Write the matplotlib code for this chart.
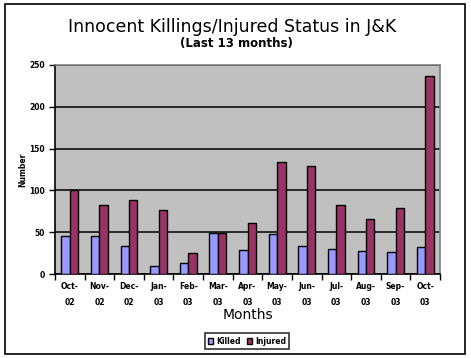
import matplotlib
matplotlib.use('Agg')
import matplotlib.pyplot as plt
from matplotlib.patches import Rectangle
import numpy as np

# data
months = ['Oct-\n02', 'Nov-\n02', 'Dec-\n02', 'Jan-\n03', 'Feb-\n03', 'Mar-\n03', 'Apr-\n03',
          'May-\n03', 'Jun-\n03', 'Jul-\n03', 'Aug-\n03', 'Sep-\n03', 'Oct-\n03']
killed = [45, 45, 33, 10, 13, 49, 29, 48, 34, 30, 27, 26, 32]
injured = [100, 83, 89, 77, 25, 49, 61, 134, 129, 82, 66, 79, 237]

W, H = 471, 358
fig = plt.figure(figsize=(W / 100, H / 100), dpi=100)
fig.patch.set_facecolor('white')

# outer border of chart area
fig.add_artist(Rectangle((5 / W, 4 / H), 460 / W, 350 / H, transform=fig.transFigure,
                         fill=False, edgecolor='black', linewidth=1.2))

ax = fig.add_axes([55 / W, (H - 274) / H, 385 / W, 209 / H])
ax.set_facecolor('#C0C0C0')

x = np.arange(len(months))
bw = 0.285
ax.bar(x - bw / 2, killed, bw, color='#9999FF', edgecolor='black', linewidth=1, label='Killed', zorder=3)
ax.bar(x + bw / 2, injured, bw, color='#993366', edgecolor='black', linewidth=1, label='Injured', zorder=3)

ax.set_xlim(-0.5, len(months) - 0.5)
ax.set_ylim(0, 250)
ax.set_yticks([0, 50, 100, 150, 200, 250])
ax.yaxis.grid(True, color='black', linewidth=1.1, zorder=1)
ax.set_axisbelow(True)
ax.tick_params(axis='y', labelsize=5.5, length=4, width=1, pad=3)
for lab in ax.get_yticklabels():
    lab.set_fontweight('bold')

# ticks at category boundaries, labels at centers
ax.set_xticks(np.arange(-0.5, len(months), 1))
ax.set_xticklabels([])
ax.tick_params(axis='x', which='major', length=4, width=1)
ax.set_xticks(x, minor=True)
ax.set_xticklabels(months, minor=True, fontsize=5.5, fontweight='bold', linespacing=1.9)
ax.tick_params(axis='x', which='minor', length=0, pad=6)

for s in ['left', 'bottom']:
    ax.spines[s].set_color('black')
    ax.spines[s].set_linewidth(1.2)
for s in ['top', 'right']:
    ax.spines[s].set_color('#808080')
    ax.spines[s].set_linewidth(1.2)

ax.set_ylabel('Number', fontsize=5.5, fontweight='bold', labelpad=2)

fig.text(232 / W, 1 - 27 / H, 'Innocent Killings/Injured Status in J&K', ha='center', va='center',
         fontsize=12.5)
fig.text(236 / W, 1 - 44 / H, '(Last 13 months)', ha='center', va='center', fontsize=8.5,
         fontweight='bold')
fig.text(248 / W, 1 - 315 / H, 'Months', ha='center', va='center', fontsize=10)

leg = fig.legend(loc='center', bbox_to_anchor=(247 / W, 1 - 341 / H), ncol=2, frameon=True,
                 fancybox=False, edgecolor='black', fontsize=5.5, handlelength=0.7,
                 handleheight=0.7, handletextpad=0.4, columnspacing=0.8, borderpad=0.4,
                 prop={'weight': 'bold', 'size': 5.5})
leg.get_frame().set_linewidth(1.2)

fig.savefig('out.png', dpi=100)
